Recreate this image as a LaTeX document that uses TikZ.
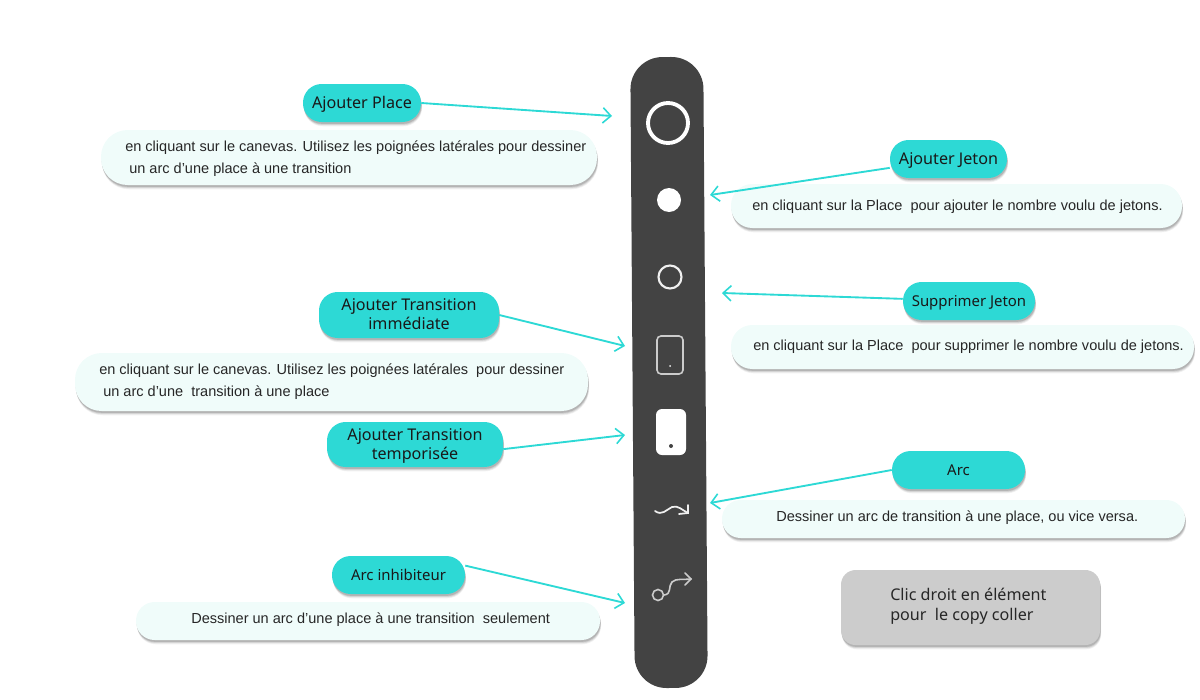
\documentclass[tikz,border=0pt]{standalone}
\usepackage{fontspec}
\setmainfont{Liberation Sans}
\newfontfamily\pillfont{Noto Sans}
\usetikzlibrary{arrows.meta,shadows,calc}
\definecolor{teal}{HTML}{2DD9D5}
\definecolor{pale}{HTML}{F0FCFA}
\definecolor{barc}{HTML}{434343}
\definecolor{greyb}{HTML}{CCCCCC}
\definecolor{iconc}{HTML}{F0F0F0}
\newcommand\pilltxt[1]{\raisebox{-4pt}[0pt][0pt]{\renewcommand\arraystretch{1.02}\begin{tabular}{@{}c@{}}#1\end{tabular}}}
\tikzset{
  x=0.75pt,y=-0.75pt,
  softsh/.style={
    general shadow={shadow xshift=0.8pt,shadow yshift=-3.2pt,fill=black,opacity=.05},
    general shadow={shadow xshift=0.7pt,shadow yshift=-2.6pt,fill=black,opacity=.07},
    general shadow={shadow xshift=0.6pt,shadow yshift=-2.0pt,fill=black,opacity=.09},
    general shadow={shadow xshift=0.4pt,shadow yshift=-1.4pt,fill=black,opacity=.12}},
  sz/.style 2 args={minimum width=#1*0.75pt,minimum height=#2*0.75pt,inner sep=0pt},
  pill/.style={fill=teal,rounded corners=14pt,softsh,align=center,text=black!90,
     font=\pillfont\fontsize{11.2pt}{14.2pt}\selectfont},
  pillbig/.style={pill,font=\pillfont\fontsize{12.1pt}{14.2pt}\selectfont},
  descbox/.style={fill=pale,rounded corners=#1,softsh},
  desctext/.style={anchor=west,inner sep=0pt,align=left,text=black!85,
     font=\fontsize{10.9pt}{16.4pt}\selectfont},
  conn/.style={draw=teal,line width=1.4pt,-{Straight Barb[length=6pt,width=11.5pt,line width=1.2pt]}},
  whiteln/.style={draw=iconc,line cap=round},
}
\begin{document}
\begin{tikzpicture}
\useasboundingbox (0,0) rectangle (1200,700);
% toolbar
\node[sz={73}{631},fill=barc,rounded corners=24pt,rotate=0.41] (bar) at (669,372.5) {};
% icons
\node[sz={40}{40},circle,draw=white,line width=2.9pt] (iplace) at (668,123) {};
\node[sz={24}{24},circle,fill=white] (ijeton) at (669,200) {};
\node[sz={23}{23},circle,draw=iconc,line width=1.6pt] (isupp) at (670,277) {};
\node[sz={26}{38},draw=iconc!85!black,line width=1.2pt,rounded corners=3pt] (iimm) at (670,355) {};
\node[sz={2}{2},circle,fill=iconc] (iimmd) at (670,366) {};
\node[sz={30}{46},fill=white,rounded corners=4.5pt] (itemp) at (671,432) {};
\node[sz={4}{4},circle,fill=barc] (itempd) at (671,446) {};
\coordinate (wa) at (655,511);
\coordinate (wb) at (688,513);
\draw[whiteln,line width=1.3pt] (wa) .. controls (662,516) and (666,510) .. (672,507) .. controls (678,505) and (682,510) .. (wb);
\coordinate (wc) at (688,505);
\coordinate (wd) at (679,514);
\draw[whiteln,line width=1.3pt] (wc) -- (wb) -- (wd);
\node[sz={11}{11},circle,draw=iconc!85!black,line width=1.2pt] (iinh) at (658,595) {};
\coordinate (ia) at (691,579);
\draw[whiteln,draw=iconc!85!black,line width=1.2pt] (iinh.east) .. controls (672,594) and (668,586) .. (672,582) .. controls (676,578) and (684,580) .. (ia);
\coordinate (ib) at (685,573);
\coordinate (ic) at (685,585);
\draw[whiteln,draw=iconc!85!black,line width=1.2pt] (ib) -- (ia) -- (ic);
% description boxes
\node[sz={496}{55},descbox=20pt] (dplace) at (349,157.5) {};
\node[desctext] (tplace) at (125,159) {en cliquant sur le canevas. Utilisez les poignées latérales pour dessiner\\\hspace{3pt}un arc d’une place à une transition};
\node[sz={451}{44},descbox=16pt] (djeton) at (956.5,206) {};
\node[desctext] (tjeton) at (752,207) {en cliquant sur la Place\ \ pour ajouter le nombre voulu de jetons.};
\node[sz={463}{44},descbox=16pt] (dsupp) at (962.5,347) {};
\node[desctext] (tsupp) at (753,347) {en cliquant sur la Place\ \ pour supprimer le nombre voulu de jetons.};
\node[sz={513}{58},descbox=20pt] (dimm) at (331.5,382) {};
\node[desctext] (timm) at (99,382) {en cliquant sur le canevas. Utilisez les poignées latérales\ \ pour dessiner\\\hspace{3pt}un arc d’une\ \ transition à une place};
\node[sz={463}{38},descbox=14pt] (darc) at (953.5,519) {};
\node[desctext] (tarc) at (776,518) {Dessiner un arc de transition à une place, ou vice versa.};
\node[sz={464}{38},descbox=14pt] (dinh) at (368,621) {};
\node[desctext] (tinh) at (191,620) {Dessiner un arc d’une place à une transition\ \ seulement};
% title pills
\node[sz={118}{38},pillbig] (pplace) at (362,103) {\pilltxt{Ajouter Place}};
\node[sz={117}{38},pillbig] (pjeton) at (948.5,159) {\pilltxt{Ajouter Jeton}};
\node[sz={132}{38},pill] (psupp) at (969,301) {\pilltxt{Supprimer Jeton}};
\node[sz={180}{46},pillbig] (pimm) at (409,315) {\pilltxt{Ajouter Transition\\immédiate}};
\node[sz={176}{45},pillbig] (ptemp) at (415,444.5) {\pilltxt{Ajouter Transition\\temporisée}};
\node[sz={133}{38},pill] (parc) at (958.5,470) {\pilltxt{Arc}};
\node[sz={133}{38},pill] (pinh) at (398.5,575) {\pilltxt{Arc inhibiteur}};
% note
\node[sz={259}{75},fill=greyb,rounded corners=11pt,softsh] (note) at (970.5,607.5) {};
\node[anchor=west,inner sep=0pt,align=left,text=black!85,font=\pillfont\fontsize{12.1pt}{15pt}\selectfont] (tnote) at (890,606) {Clic droit en élément\\pour\ \ le copy coller};
% connector targets
\coordinate (aplace) at (612,116);
\coordinate (ajeton) at (710,195);
\coordinate (asupp) at (722,293);
\coordinate (aimm) at (625,346);
\coordinate (atemp) at (625,435);
\coordinate (aarc) at (710,503);
\coordinate (ainh) at (625,603);
\draw[conn] (pplace.east) -- (aplace);
\draw[conn] (pjeton) -- (ajeton);
\draw[conn] (psupp) -- (asupp);
\draw[conn] (pimm.east) -- (aimm);
\draw[conn] (ptemp.-3) -- (atemp);
\draw[conn] (parc.west) -- (aarc);
\draw[conn] (pinh.8) -- (ainh);
\end{tikzpicture}
\end{document}
